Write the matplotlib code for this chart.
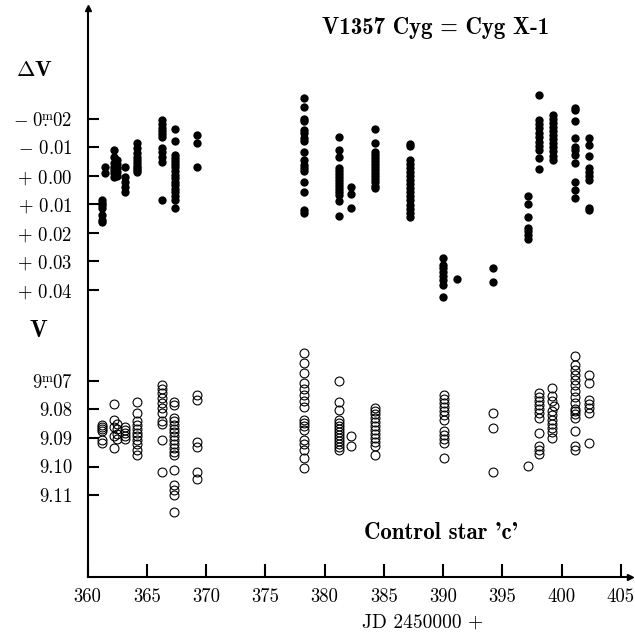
import matplotlib
matplotlib.use("Agg")
import matplotlib.pyplot as plt

plt.rcParams['font.family'] = 'cmr10'
plt.rcParams['mathtext.fontset'] = 'cm'
plt.rcParams['axes.unicode_minus'] = False

# Delta V of V1357 Cyg (filled), one list per night
dv_nights = [361.25, 361.45, 362.2, 362.45, 363.2, 364.2, 366.25, 367.35, 369.27,
             378.25, 381.2, 382.2, 384.3, 387.2, 390.0, 391.2, 394.2, 397.2,
             398.1, 399.3, 401.1, 402.3]
dv_values = [
    [0.0085, 0.0096, 0.0103, 0.0113, 0.0138, 0.0155, 0.0162],
    [-0.0031, -0.0009],
    [-0.0090, -0.0066, -0.0045, -0.0031, -0.0020, -0.0009, 0.0005],
    [-0.0055, -0.0041, -0.0027, -0.0013, 0.0000],
    [-0.0031, 0.0005, 0.0022, 0.0040, 0.0057],
    [-0.0115, -0.0097, -0.0080, -0.0066, -0.0055, -0.0045, -0.0034, -0.0027, -0.0020, -0.0013],
    [-0.0195, -0.0181, -0.0167, -0.0157, -0.0146, -0.0136, -0.0097, -0.0083, -0.0066, -0.0048, 0.0085],
    [-0.0164, -0.0122, -0.0073, -0.0062, -0.0052, -0.0041, -0.0031, -0.0017, -0.0002, 0.0008,
     0.0022, 0.0033, 0.0047, 0.0057, 0.0071, 0.0085, 0.0113],
    [-0.0143, -0.0115, -0.0031],
    [-0.0273, -0.0241, -0.0199, -0.0192, -0.0160, -0.0150, -0.0132, -0.0122, -0.0083, -0.0055,
     -0.0038, -0.0027, -0.0017, 0.0022, 0.0057, 0.0120, 0.0131],
    [-0.0136, -0.0090, -0.0066, -0.0027, -0.0017, -0.0006, 0.0005, 0.0015, 0.0026, 0.0036,
     0.0047, 0.0057, 0.0068, 0.0089, 0.0141],
    [0.0040, 0.0064, 0.0115],
    [-0.0164, -0.0115, -0.0083, -0.0073, -0.0062, -0.0052, -0.0041, -0.0031, -0.0020, -0.0009,
     0.0001, 0.0012, 0.0022, 0.0036, 0.0044],
    [-0.0111, -0.0104, -0.0055, -0.0041, -0.0027, -0.0013, 0.0001, 0.0015, 0.0029, 0.0043,
     0.0057, 0.0071, 0.0085, 0.0103, 0.0117, 0.0131, 0.0145],
    [0.0289, 0.0313, 0.0324, 0.0338, 0.0352, 0.0366, 0.0383, 0.0426],
    [0.0363],
    [0.0324, 0.0373],
    [0.0071, 0.0099, 0.0144, 0.0184, 0.0194, 0.0208, 0.0222],
    [-0.0283, -0.0195, -0.0181, -0.0167, -0.0150, -0.0136, -0.0118, -0.0104, -0.0090, -0.0062, -0.0023],
    [-0.0213, -0.0199, -0.0185, -0.0171, -0.0157, -0.0143, -0.0129, -0.0115, -0.0101, -0.0087,
     -0.0069, -0.0055],
    [-0.0238, -0.0230, -0.0192, -0.0132, -0.0101, -0.0090, -0.0073, -0.0045, 0.0021, 0.0050, 0.0079],
    [-0.0134, -0.0108, -0.0069, -0.0027, -0.0013, 0.0001, 0.0015, 0.0112, 0.0120],
]

# V of control star 'c' (open), one list per night
v_nights = [361.25, 362.2, 362.5, 363.2, 364.2, 366.25, 367.3, 369.27, 378.3, 381.2,
            382.2, 384.3, 390.1, 394.2, 397.2, 398.1, 399.2, 399.4, 401.1, 402.3]
v_values = [
    [9.0855, 9.0862, 9.0869, 9.0876, 9.0907, 9.0918],
    [9.0781, 9.0839, 9.0862, 9.0895, 9.0935],
    [9.0851, 9.0869, 9.0886, 9.0904],
    [9.0862, 9.0872, 9.0883, 9.0893, 9.0904],
    [9.0774, 9.0813, 9.0841, 9.0855, 9.0869, 9.0883, 9.0893, 9.0907, 9.0921, 9.0942, 9.0960],
    [9.0715, 9.0729, 9.0743, 9.0760, 9.0778, 9.0795, 9.0813, 9.0841, 9.0851, 9.0907, 9.1018],
    [9.0774, 9.0785, 9.0830, 9.0841, 9.0855, 9.0869, 9.0879, 9.0893, 9.0907, 9.0921, 9.0935,
     9.0949, 9.0960, 9.1012, 9.1065, 9.1082, 9.1100, 9.1159],
    [9.0750, 9.0767, 9.0914, 9.0932, 9.1018, 9.1042],
    [9.0603, 9.0638, 9.0673, 9.0708, 9.0729, 9.0750, 9.0771, 9.0792, 9.0837, 9.0848, 9.0858,
     9.0872, 9.0907, 9.0921, 9.0942, 9.0970, 9.1005],
    [9.0700, 9.0774, 9.0802, 9.0837, 9.0848, 9.0858, 9.0869, 9.0879, 9.0890, 9.0900, 9.0911,
     9.0921, 9.0932, 9.0942],
    [9.0895, 9.0928],
    [9.0795, 9.0806, 9.0816, 9.0830, 9.0844, 9.0858, 9.0872, 9.0886, 9.0900, 9.0914, 9.0928, 9.0960],
    [9.0750, 9.0764, 9.0778, 9.0792, 9.0806, 9.0820, 9.0837, 9.0876, 9.0890, 9.0904, 9.0918, 9.0970],
    [9.0813, 9.0865, 9.1019],
    [9.0998],
    [9.0743, 9.0757, 9.0771, 9.0785, 9.0799, 9.0813, 9.0830, 9.0883, 9.0928, 9.0942, 9.0956],
    [9.0725, 9.0754, 9.0771, 9.0806, 9.0820, 9.0837, 9.0851, 9.0865, 9.0879, 9.0900],
    [9.0788],
    [9.0614, 9.0645, 9.0662, 9.0680, 9.0697, 9.0715, 9.0736, 9.0757, 9.0778, 9.0799, 9.0806,
     9.0816, 9.0830, 9.0876, 9.0928, 9.0942],
    [9.0680, 9.0708, 9.0767, 9.0781, 9.0795, 9.0813, 9.0918],
]

x_ticks = [360, 365, 370, 375, 380, 385, 390, 395, 400, 405]
dv_ticks = [-0.02, -0.01, 0.00, 0.01, 0.02, 0.03, 0.04]
dv_labels = [r'$-\;0\overset{\rm m}{.}02$', r'$-$ 0.01', r'$+$ 0.00', r'$+$ 0.01',
             r'$+$ 0.02', r'$+$ 0.03', r'$+$ 0.04']
v_ticks = [9.07, 9.08, 9.09, 9.10, 9.11]
v_labels = [r'$9\overset{\rm m}{.}07$', '9.08', '9.09', '9.10', '9.11']

W, H = 635, 634
fig = plt.figure(figsize=(W / 100, H / 100), dpi=100)
x0, x1, y0, y1 = 87.5, 630, 577, 8
ax = fig.add_axes([x0 / W, 1 - y0 / H, (x1 - x0) / W, (y0 - y1) / H])
ax2 = ax.twinx()

for jd, vals in zip(dv_nights, dv_values):
    ax.plot([jd] * len(vals), vals, 'o', color='black', markersize=6, markeredgewidth=0)
for jd, vals in zip(v_nights, v_values):
    ax2.plot([jd] * len(vals), vals, 'o', mfc='none', mec='black', markersize=6.4,
             markeredgewidth=0.8)

ax.set_xlim(360, 360 + (x1 - x0) / 11.85)
ax.set_ylim((y0 - 175.7) / 2850, (y1 - 175.7) / 2850)
ax2.set_ylim(9.07 + (y0 - 380.7) / 2860, 9.07 + (y1 - 380.7) / 2860)

for a in (ax, ax2):
    for s in ('top', 'right'):
        a.spines[s].set_visible(False)
ax2.spines['left'].set_visible(False)
ax2.spines['bottom'].set_visible(False)
for s in ('left', 'bottom'):
    ax.spines[s].set_linewidth(1.5)

ax.set_xticks(x_ticks)
ax.set_xticklabels([str(t) for t in x_ticks])
ax.set_yticks(dv_ticks)
ax.set_yticklabels(dv_labels)
ax2.yaxis.set_ticks_position('left')
ax2.set_yticks(v_ticks)
ax2.set_yticklabels(v_labels)

ax.tick_params(axis='x', direction='in', length=9.5, width=1.5, pad=8, labelsize=13.5)
ax.tick_params(axis='y', direction='in', length=8, width=1.5, pad=11, labelsize=13.5)
ax2.tick_params(axis='y', direction='in', length=8, width=1.5, pad=11, labelsize=13.5,
                left=True, right=False, labelleft=True, labelright=False)

# axis arrowheads
ax.plot([1], [0], marker='>', color='black', markersize=4, transform=ax.transAxes, clip_on=False)
ax.plot([0], [1], marker='^', color='black', markersize=4, transform=ax.transAxes, clip_on=False)

fig.text(436 / W, 1 - 28 / H, 'V1357 Cyg = Cyg X-1', family='cmb10', fontsize=16.5,
         ha='center', va='center')
fig.text(441 / W, 1 - 533 / H, "Control star 'c'", family='cmb10', fontsize=16.5,
         ha='center', va='center')
fig.text(423 / W, 1 - 623 / H, 'JD 2450000 +', fontsize=14, ha='center', va='center')
fig.text(34 / W, 1 - 70 / H, r'$\mathbf{\Delta V}$', fontsize=16, ha='center', va='center')
fig.text(38 / W, 1 - 331 / H, 'V', family='cmb10', fontsize=17, ha='center', va='center')

fig.savefig('out.png', dpi=100)
